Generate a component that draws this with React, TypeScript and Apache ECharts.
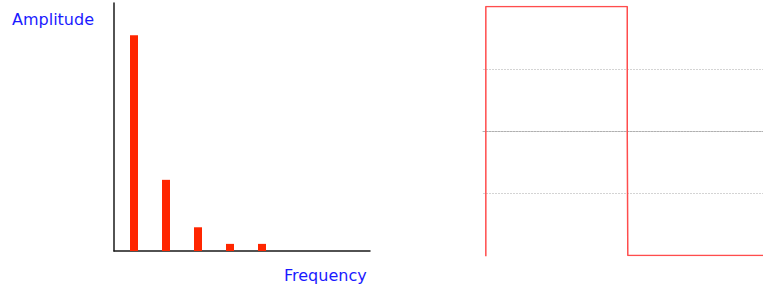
import React, { useEffect, useRef } from "react";
import * as echarts from "echarts";

// Spectrum (left): harmonic frequency index and amplitude
const harmonicFreq = [1, 3, 5, 7, 9];
const harmonicAmp = [100, 33, 11, 3.3, 3.3];

// Square wave (right): time (periods) and level
const waveTime = [0, 0, 0.5, 0.5, 0.502, 0.502, 1.0];
const waveLevel = [-1.025, 1, 1, 0, 0, -1, -1];

const yLabel = "Amplitude";
const xLabel = "Frequency";

export default function App() {
  const ref = useRef<HTMLDivElement>(null);
  useEffect(() => {
    if (!ref.current) return;
    const chart = echarts.init(ref.current, undefined, { renderer: "svg" });
    const font = "'DejaVu Sans', Verdana, sans-serif";
    chart.setOption({
      animation: false,
      backgroundColor: "#ffffff",
      grid: [
        { left: 114, top: 3, width: 256, height: 248 },
        { left: 483, top: 6.5, width: 280, height: 249 },
      ],
      xAxis: [
        {
          gridIndex: 0,
          type: "value",
          min: -0.25,
          max: 15.75,
          axisLine: { show: true, onZero: false, lineStyle: { color: "#1a1a1a", width: 1.5 } },
          axisTick: { show: false },
          axisLabel: { show: false },
          splitLine: { show: false },
        },
        {
          gridIndex: 1,
          type: "value",
          min: -0.01,
          max: 0.98,
          axisLine: { show: true, onZero: true, lineStyle: { color: "#b0b0b0", width: 1, type: [2, 1] } },
          axisTick: { show: false },
          axisLabel: { show: false },
          splitLine: { show: false },
        },
      ],
      yAxis: [
        {
          gridIndex: 0,
          type: "value",
          min: 0,
          max: 115,
          axisLine: { show: true, onZero: false, lineStyle: { color: "#1a1a1a", width: 1.5 } },
          axisTick: { show: false },
          axisLabel: { show: false },
          splitLine: { show: false },
        },
        {
          gridIndex: 1,
          type: "value",
          min: -1,
          max: 1,
          interval: 0.5,
          axisLine: { show: false, onZero: false },
          axisTick: { show: false },
          axisLabel: { show: false },
          splitLine: {
            show: true,
            showMinLine: false,
            showMaxLine: false,
            lineStyle: { color: "#d4d4d4", width: 1, type: [2, 1] },
          },
        },
      ],
      series: [
        {
          type: "bar",
          xAxisIndex: 0,
          yAxisIndex: 0,
          barWidth: 8,
          itemStyle: { color: "#ff2600" },
          data: harmonicFreq.map((f, i) => [f, harmonicAmp[i]]),
        },
        {
          type: "line",
          xAxisIndex: 1,
          yAxisIndex: 1,
          symbol: "none",
          clip: true,
          lineStyle: { color: "#ff4d4d", width: 1.5 },
          data: waveTime.map((t, i) => [t, waveLevel[i]]),
        },
      ],
      graphic: [
        {
          type: "text",
          left: 12,
          top: 11,
          style: { text: yLabel, fill: "#1a1aff", font: `16px ${font}` },
        },
        {
          type: "text",
          left: 284,
          top: 267,
          style: { text: xLabel, fill: "#1a1aff", font: `16px ${font}` },
        },
      ],
    });
    return () => chart.dispose();
  }, []);
  return <div ref={ref} style={{ width: 763, height: 287, position: "absolute", left: 0, top: 0 }} />;
}
